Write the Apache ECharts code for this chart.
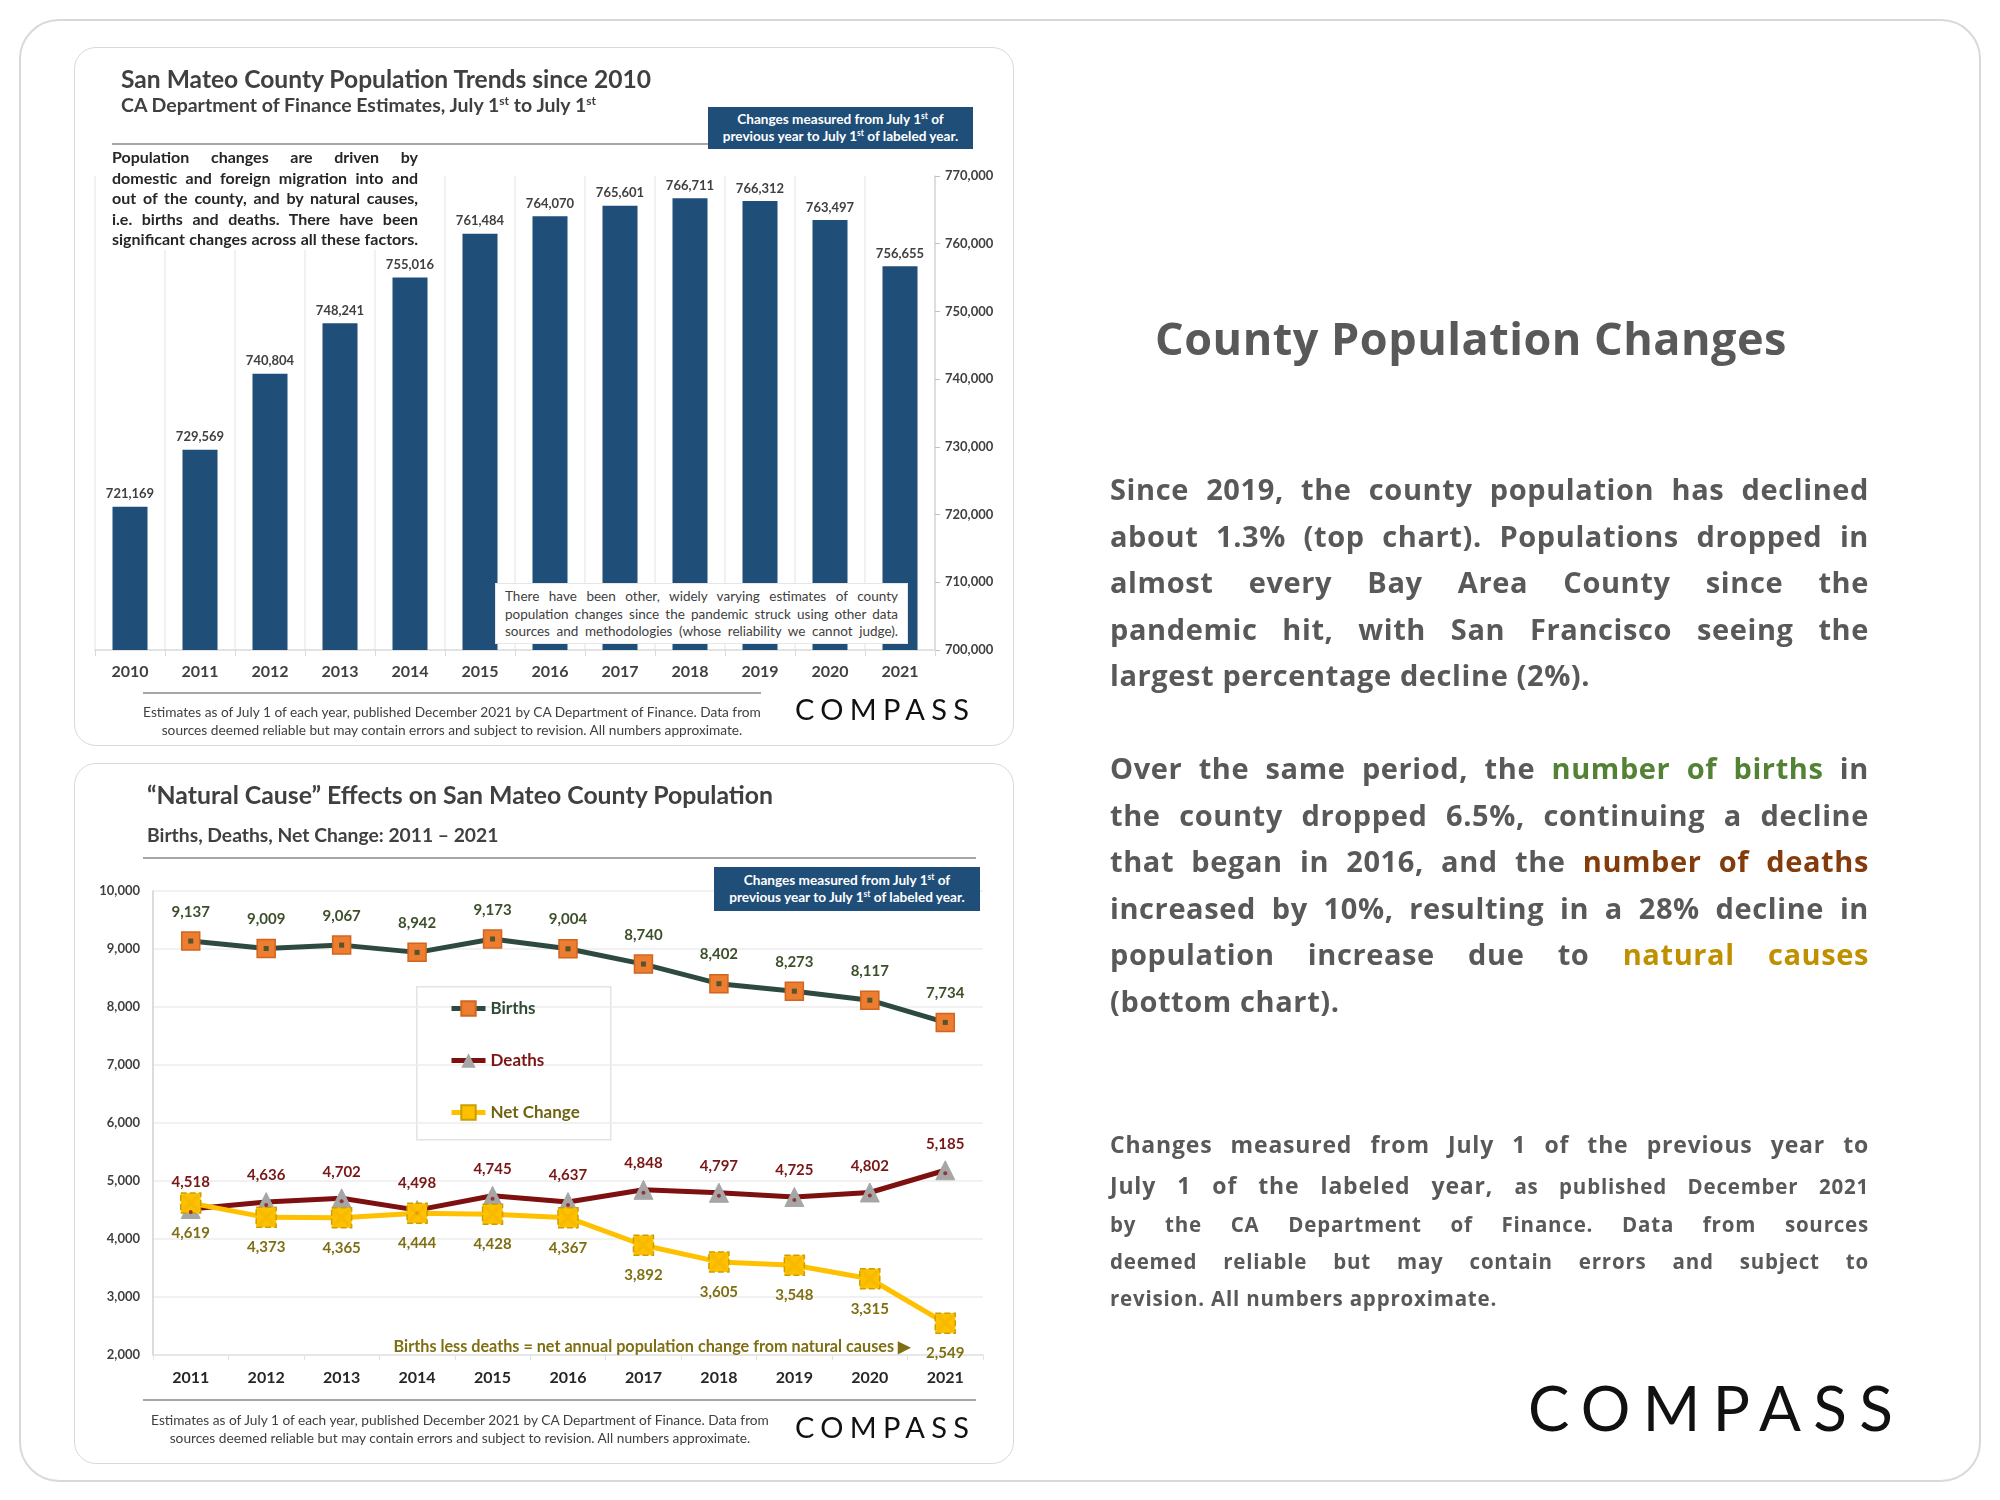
<!DOCTYPE html>
<html>
<head>
<meta charset="utf-8">
<script src="https://cdn.jsdelivr.net/npm/echarts@6/dist/echarts.min.js"></script>
<style>
  html,body{margin:0;padding:0;background:#fff;}
  #page{position:relative;width:2000px;height:1500px;overflow:hidden;background:#fff;font-family:Lato,"Open Sans",sans-serif;}
  .frame{position:absolute;border:2px solid #d9d9d9;box-sizing:border-box;background:#fff;}
  #chart{position:absolute;left:0;top:0;width:2000px;height:1500px;z-index:1;}
  .txt{position:absolute;z-index:2;color:#404040;}
  .rule{position:absolute;z-index:2;height:2px;background:#a6a6a6;}
  .bluebox{position:absolute;z-index:2;background:#1f4e79;color:#fff;font-weight:700;font-size:13.6px;line-height:17px;text-align:center;box-sizing:border-box;padding-top:4px;white-space:nowrap;}
  sup{font-size:0.62em;line-height:0;vertical-align:0.55em;}
  .jl{text-align:justify;text-align-last:justify;white-space:nowrap;}
  .ll{text-align:left;white-space:nowrap;}
  .logo{position:absolute;z-index:2;color:#111;font-family:Lato,sans-serif;font-weight:400;white-space:nowrap;}
  .rp{font-family:"Open Sans",sans-serif;color:#595959;font-weight:700;}
</style>
</head>
<body>
<div id="page">
  <div class="frame" style="left:19px;top:19px;width:1962px;height:1463px;border-radius:40px;"></div>
  <div class="frame" style="left:74px;top:47px;width:940px;height:699px;border-radius:22px;border-width:1.5px;"></div>
  <div class="frame" style="left:74px;top:763px;width:940px;height:701px;border-radius:22px;border-width:1.5px;"></div>

  <div id="chart"></div>

  <!-- top panel texts -->
  <div class="txt" style="left:121px;top:64px;font-size:24.6px;line-height:30px;font-weight:700;white-space:nowrap;">San Mateo County Population Trends since 2010</div>
  <div class="txt" style="left:121px;top:93px;font-size:19.5px;line-height:24px;font-weight:700;white-space:nowrap;">CA Department of Finance Estimates, July 1<sup>st</sup> to July 1<sup>st</sup></div>
  <div class="rule" style="left:112px;top:143px;width:596px;"></div>
  <div class="bluebox" style="left:708px;top:107px;width:265px;height:42px;">Changes measured from July 1<sup>st</sup> of<br>previous year to July 1<sup>st</sup> of labeled year.</div>
  <div class="txt" style="left:112px;top:147px;width:306px;font-size:16px;line-height:20.5px;font-weight:700;color:#262626;background:#fff;">
    <div class="jl">Population changes are driven by</div>
    <div class="jl">domestic and foreign migration into and</div>
    <div class="jl">out of the county, and by natural causes,</div>
    <div class="jl">i.e. births and deaths. There have been</div>
    <div class="jl">significant changes across all these factors.</div>
  </div>
  <div class="txt" style="left:495px;top:583px;width:413px;height:61px;box-sizing:border-box;padding:4px 9px;font-size:13.5px;line-height:17.5px;background:#fff;border:1px solid #e6e6e6;">
    <div class="jl">There have been other, widely varying estimates of county</div>
    <div class="jl">population changes since the pandemic struck using other data</div>
    <div class="jl">sources and methodologies (whose reliability we cannot judge).</div>
  </div>
  <div class="rule" style="left:143px;top:692px;width:618px;"></div>
  <div class="txt" style="left:113px;top:703px;width:678px;text-align:center;font-size:13.7px;line-height:18px;white-space:nowrap;">Estimates as of July 1 of each year, published December 2021 by CA Department of Finance. Data from<br>sources deemed reliable but may contain errors and subject to revision. All numbers approximate.</div>
  <div class="logo" style="left:795px;top:692px;font-size:29px;line-height:34px;letter-spacing:6.3px;">COMPASS</div>

  <!-- bottom panel texts -->
  <div class="txt" style="left:147px;top:780px;font-size:24.8px;line-height:30px;font-weight:700;white-space:nowrap;">“Natural Cause” Effects on San Mateo County Population</div>
  <div class="txt" style="left:147px;top:823px;font-size:19.3px;line-height:24px;font-weight:700;white-space:nowrap;">Births, Deaths, Net Change: 2011 – 2021</div>
  <div class="rule" style="left:143px;top:857px;width:833px;"></div>
  <div class="bluebox" style="left:714px;top:867px;width:266px;height:44px;padding-top:5px;">Changes measured from July 1<sup>st</sup> of<br>previous year to July 1<sup>st</sup> of labeled year.</div>
  <div class="txt" style="left:330px;top:1335px;width:580px;text-align:right;font-size:16.2px;line-height:22px;font-weight:700;color:#7f6f12;white-space:nowrap;">Births less deaths = net annual population change from natural causes ▶</div>
  <div class="rule" style="left:143px;top:1399px;width:833px;"></div>
  <div class="txt" style="left:120px;top:1411px;width:680px;text-align:center;font-size:13.7px;line-height:18px;white-space:nowrap;">Estimates as of July 1 of each year, published December 2021 by CA Department of Finance. Data from<br>sources deemed reliable but may contain errors and subject to revision. All numbers approximate.</div>
  <div class="logo" style="left:795px;top:1410px;font-size:29px;line-height:34px;letter-spacing:6.3px;">COMPASS</div>

  <!-- right panel -->
  <div class="txt rp" style="left:1110px;top:310px;width:722px;text-align:center;font-size:45px;line-height:56px;letter-spacing:0.5px;white-space:nowrap;">County Population Changes</div>
  <div class="txt rp" style="left:1110px;top:466px;width:759px;font-size:29px;line-height:46.6px;letter-spacing:0.6px;">
    <div class="jl">Since 2019, the county population has declined</div>
    <div class="jl">about 1.3% (top chart). Populations dropped in</div>
    <div class="jl">almost every Bay Area County since the</div>
    <div class="jl">pandemic hit, with San Francisco seeing the</div>
    <div class="ll">largest percentage decline (2%).</div>
  </div>
  <div class="txt rp" style="left:1110px;top:745px;width:759px;font-size:29px;line-height:46.6px;letter-spacing:0.6px;">
    <div class="jl">Over the same period, the <span style="color:#548235">number of births</span> in</div>
    <div class="jl">the county dropped 6.5%, continuing a decline</div>
    <div class="jl">that began in 2016, and the <span style="color:#843c0c">number of deaths</span></div>
    <div class="jl">increased by 10%, resulting in a 28% decline in</div>
    <div class="jl">population increase due to <span style="color:#bf9000">natural causes</span></div>
    <div class="ll">(bottom chart).</div>
  </div>
  <div class="txt rp" style="left:1110px;top:1124px;width:759px;letter-spacing:0.8px;">
    <div class="jl" style="font-size:23px;line-height:40px;">Changes measured from July 1 of the previous year to</div>
    <div class="jl" style="font-size:23px;line-height:40px;margin-top:1px;">July 1 of the labeled year, <span style="font-size:20.5px">as published December 2021</span></div>
    <div class="jl" style="font-size:20.5px;line-height:38px;margin-top:-1px;">by the CA Department of Finance. Data from sources</div>
    <div class="jl" style="font-size:20.5px;line-height:37px;">deemed reliable but may contain errors and subject to</div>
    <div class="ll" style="font-size:20.5px;line-height:36px;">revision. All numbers approximate.</div>
  </div>
  <div class="logo" style="left:1528px;top:1370px;font-size:62px;line-height:74px;letter-spacing:12.3px;">COMPASS</div>
</div>

<script>
// ---------- data ----------
const popYears = ['2010','2011','2012','2013','2014','2015','2016','2017','2018','2019','2020','2021'];
const population = [721169, 729569, 740804, 748241, 755016, 761484, 764070, 765601, 766711, 766312, 763497, 756655];
const popAxisMin = 700000, popAxisMax = 770000, popAxisStep = 10000;

const natYears = ['2011','2012','2013','2014','2015','2016','2017','2018','2019','2020','2021'];
const births = [9137, 9009, 9067, 8942, 9173, 9004, 8740, 8402, 8273, 8117, 7734];
const deaths = [4518, 4636, 4702, 4498, 4745, 4637, 4848, 4797, 4725, 4802, 5185];
const netChange = [4619, 4373, 4365, 4444, 4428, 4367, 3892, 3605, 3548, 3315, 2549];
const natAxisMin = 2000, natAxisMax = 10000, natAxisStep = 1000;

// ---------- chart ----------
const fmt = v => Number(v).toLocaleString('en-US');
const FONT = 'Lato';
const chart = echarts.init(document.getElementById('chart'), null, {renderer:'canvas'});

const option = {
  animation: false,
  backgroundColor: 'transparent',
  textStyle: {fontFamily: FONT},
  grid: [
    {left: 95, top: 176, width: 840, height: 474},
    {left: 153, top: 891, width: 830, height: 464}
  ],
  legend: {
    show: true,
    orient: 'vertical',
    left: 449, top: 1000,
    itemWidth: 34, itemHeight: 18, itemGap: 35,
    padding: 0,
    data: [
      {name: 'Births', textStyle: {color: '#2f4b33'}, lineStyle: {width: 5}},
      {name: 'Deaths', textStyle: {color: '#7a1616'}, lineStyle: {width: 5}},
      {name: 'Net Change', textStyle: {color: '#6f6412'}, lineStyle: {width: 5}}
    ],
    textStyle: {fontFamily: FONT, fontSize: 17, fontWeight: 'bold'}
  },
  graphic: [
    {type: 'rect', left: 416, top: 986, shape: {width: 194, height: 153}, style: {fill: '#fff', stroke: '#e3e3e3', lineWidth: 1.5}, z: 0}
  ],
  xAxis: [
    {
      type: 'category', gridIndex: 0, data: popYears, boundaryGap: true,
      axisLine: {show: true, lineStyle: {color: '#d9d9d9', width: 1.5}},
      axisTick: {show: true, length: 6, lineStyle: {color: '#d9d9d9'}},
      axisLabel: {color: '#404040', fontSize: 16, fontWeight: 'bold', margin: 14, fontFamily: FONT},
      splitLine: {show: true, lineStyle: {color: '#ececec', width: 1.5}}
    },
    {
      type: 'category', gridIndex: 1, data: natYears, boundaryGap: true,
      axisLine: {show: true, lineStyle: {color: '#e3e3e3', width: 1.5}},
      axisTick: {show: true, length: 5, lineStyle: {color: '#e3e3e3'}},
      axisLabel: {color: '#262626', fontSize: 16, fontWeight: 'bold', margin: 15, fontFamily: FONT},
      splitLine: {show: false}
    }
  ],
  yAxis: [
    {
      type: 'value', gridIndex: 0, position: 'right',
      min: popAxisMin, max: popAxisMax, interval: popAxisStep,
      axisLine: {show: true, lineStyle: {color: '#d9d9d9', width: 1.5}},
      axisTick: {show: true, length: 5, lineStyle: {color: '#bfbfbf'}},
      axisLabel: {color: '#404040', fontSize: 13, fontWeight: 'bold', margin: 10, formatter: fmt, fontFamily: FONT},
      splitLine: {show: false}
    },
    {
      type: 'value', gridIndex: 1,
      min: natAxisMin, max: natAxisMax, interval: natAxisStep,
      axisLine: {show: true, lineStyle: {color: '#d0d0d0', width: 1.5}},
      axisTick: {show: false},
      axisLabel: {color: '#404040', fontSize: 13, fontWeight: 'bold', margin: 13, formatter: fmt, fontFamily: FONT},
      splitLine: {show: true, lineStyle: {color: '#ededed', width: 1.5}}
    }
  ],
  series: [
    {
      name: 'Population', type: 'bar', xAxisIndex: 0, yAxisIndex: 0,
      data: population, barWidth: 35,
      itemStyle: {color: '#1f4e79'},
      label: {show: true, position: 'top', distance: 6, formatter: p => fmt(p.value), color: '#404040', fontSize: 13, fontWeight: 'bold', fontFamily: FONT}
    },
    {
      name: 'Births', type: 'line', xAxisIndex: 1, yAxisIndex: 1, data: births,
      lineStyle: {color: '#2e4a40', width: 5}, itemStyle: {color: '#ed7d31', borderColor: '#d0661f', borderWidth: 1.5},
      symbol: 'rect', symbolSize: 18, z: 3,
      label: {show: true, position: 'top', distance: 12, formatter: p => fmt(p.value), color: '#3d4f2a', fontSize: 15, fontWeight: 'bold', fontFamily: FONT}
    },
    {
      name: 'Deaths', type: 'line', xAxisIndex: 1, yAxisIndex: 1, data: deaths,
      lineStyle: {color: '#7f1010', width: 5}, itemStyle: {color: '#a6a6a6', borderColor: '#a6a6a6'},
      symbol: 'triangle', symbolSize: 19, z: 3,
      label: {show: true, position: 'top', distance: 9, formatter: p => fmt(p.value), color: '#7a1616', fontSize: 15, fontWeight: 'bold', fontFamily: FONT}
    },
    {
      name: 'Net Change', type: 'line', xAxisIndex: 1, yAxisIndex: 1, data: netChange,
      lineStyle: {color: '#ffc000', width: 5}, itemStyle: {color: '#ffc000', borderColor: '#c9a000', borderWidth: 1.5, borderType: 'dashed'},
      symbol: 'rect', symbolSize: 20, z: 4,
      label: {show: true, position: 'bottom', distance: 12, formatter: p => fmt(p.value), color: '#7f6f12', fontSize: 15, fontWeight: 'bold', fontFamily: FONT}
    },
    {
      name: 'BirthsDot', type: 'scatter', xAxisIndex: 1, yAxisIndex: 1, data: births,
      symbol: 'rect', symbolSize: 5, itemStyle: {color: '#2e4a2a'}, z: 5, silent: true
    },
    {
      name: 'DeathsDot', type: 'scatter', xAxisIndex: 1, yAxisIndex: 1, data: deaths,
      symbol: 'circle', symbolSize: 4, symbolOffset: [0, 3], itemStyle: {color: '#8b1a1a'}, z: 5, silent: true
    },
    {
      name: 'NetX', type: 'scatter', xAxisIndex: 1, yAxisIndex: 1, data: netChange,
      symbol: 'path://M0,0L3,0L10,7L17,0L20,0L20,3L13,10L20,17L20,20L17,20L10,13L3,20L0,20L0,17L7,10L0,3Z',
      symbolSize: 16, itemStyle: {color: '#f5b800', opacity: 0.8}, z: 6, silent: true
    }
  ]
};
chart.setOption(option);
</script>
</body>
</html>
